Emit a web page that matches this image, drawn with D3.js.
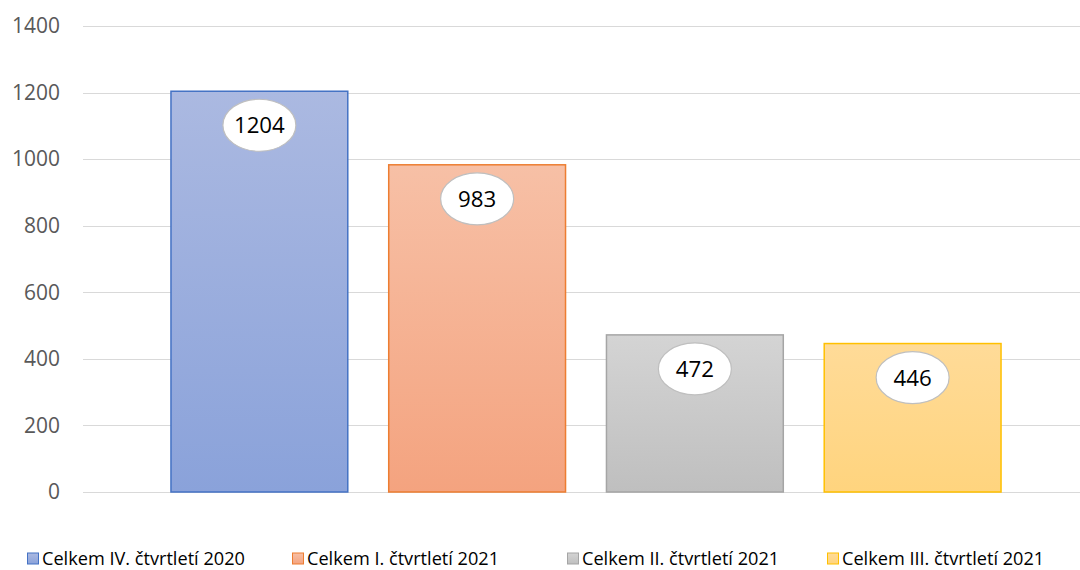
<!DOCTYPE html>
<html><head><meta charset="utf-8">
<script src="https://cdn.jsdelivr.net/npm/d3@7"></script>
<style>body{margin:0;background:#fff}svg{display:block}</style>
</head><body><svg id="c" width="1080" height="570"></svg>
<script>
const seriesNames = ["Celkem IV. čtvrtletí 2020","Celkem I. čtvrtletí 2021","Celkem II. čtvrtletí 2021","Celkem III. čtvrtletí 2021"];
const values = [1204, 983, 472, 446];
const yTicks = [0,200,400,600,800,1000,1200,1400];
const strokeColors = ["#4472c4","#ed7d31","#a5a5a5","#ffc000"];
const topColors = ["#abb9e1","#f7c0a6","#d4d4d4","#ffdb98"];
const bottomColors = ["#8aa2da","#f4a37f","#bfbfbf","#ffd47e"];

const svg = d3.select("#c");
const font = "'Open Sans', 'Liberation Sans', sans-serif";
const y = d3.scaleLinear().domain([0,1400]).range([492,26]);
const x = d3.scaleBand().domain(seriesNames).range([150.5,1021.5]).paddingInner(0.188).paddingOuter(0.094);

// measure helper: font size giving target width
function fitSize(str, target){
  const t = svg.append("text").attr("font-family",font).attr("font-size",100).text(str);
  const w = t.node().getComputedTextLength(); t.remove();
  return 100*target/w;
}
const tickSize = fitSize("1400", 48);
const legSize = fitSize(seriesNames[0], 203);
const labSize = fitSize("1204", 51);

const defs = svg.append("defs");
seriesNames.forEach((s,i)=>{
  const g = defs.append("linearGradient").attr("id","g"+i).attr("x1",0).attr("y1",0).attr("x2",0).attr("y2",1);
  g.append("stop").attr("offset","0%").attr("stop-color",topColors[i]);
  g.append("stop").attr("offset","100%").attr("stop-color",bottomColors[i]);
});

svg.append("g").selectAll("line").data(yTicks).join("line")
  .attr("x1",83).attr("x2",1080).attr("y1",d=>Math.round(y(d))+0.5).attr("y2",d=>Math.round(y(d))+0.5)
  .attr("stroke","#d9d9d9").attr("stroke-width",1);

svg.append("g").selectAll("text").data(yTicks).join("text")
  .attr("x",60).attr("y",d=>y(d)).attr("dy","0.35em").attr("text-anchor","end")
  .attr("font-family",font).attr("font-size",tickSize).attr("fill","#595959").text(d=>d);

svg.append("g").selectAll("rect").data(values).join("rect")
  .attr("x",(d,i)=>x(seriesNames[i])).attr("width",x.bandwidth())
  .attr("y",d=>y(d)).attr("height",d=>y(0)-y(d))
  .attr("fill",(d,i)=>`url(#g${i})`).attr("stroke",(d,i)=>strokeColors[i]).attr("stroke-width",1.5);

const lab = svg.append("g").selectAll("g").data(values).join("g")
  .attr("transform",(d,i)=>`translate(${x(seriesNames[i])+x.bandwidth()/2},${y(d)+34})`);
lab.append("ellipse").attr("rx",36.5).attr("ry",26).attr("fill","#fff").attr("stroke","#bfbfbf").attr("stroke-width",1.2);
lab.append("text").attr("text-anchor","middle").attr("dy","0.36em").attr("font-family",font).attr("font-size",labSize).attr("fill","#000").text(d=>d);

const legX = [27,292,567,827];
const leg = svg.append("g").selectAll("g").data(seriesNames).join("g")
  .attr("transform",(d,i)=>`translate(${legX[i]},559)`);
leg.append("rect").attr("x",0.5).attr("y",-6).attr("width",11).attr("height",11)
  .attr("fill",(d,i)=>`url(#g${i})`).attr("stroke",(d,i)=>strokeColors[i]).attr("stroke-width",1);
leg.append("text").attr("x",15).attr("y",0).attr("dy","0.35em").attr("font-family",font).attr("font-size",legSize).attr("fill","#000").text(d=>d);
</script></body></html>
